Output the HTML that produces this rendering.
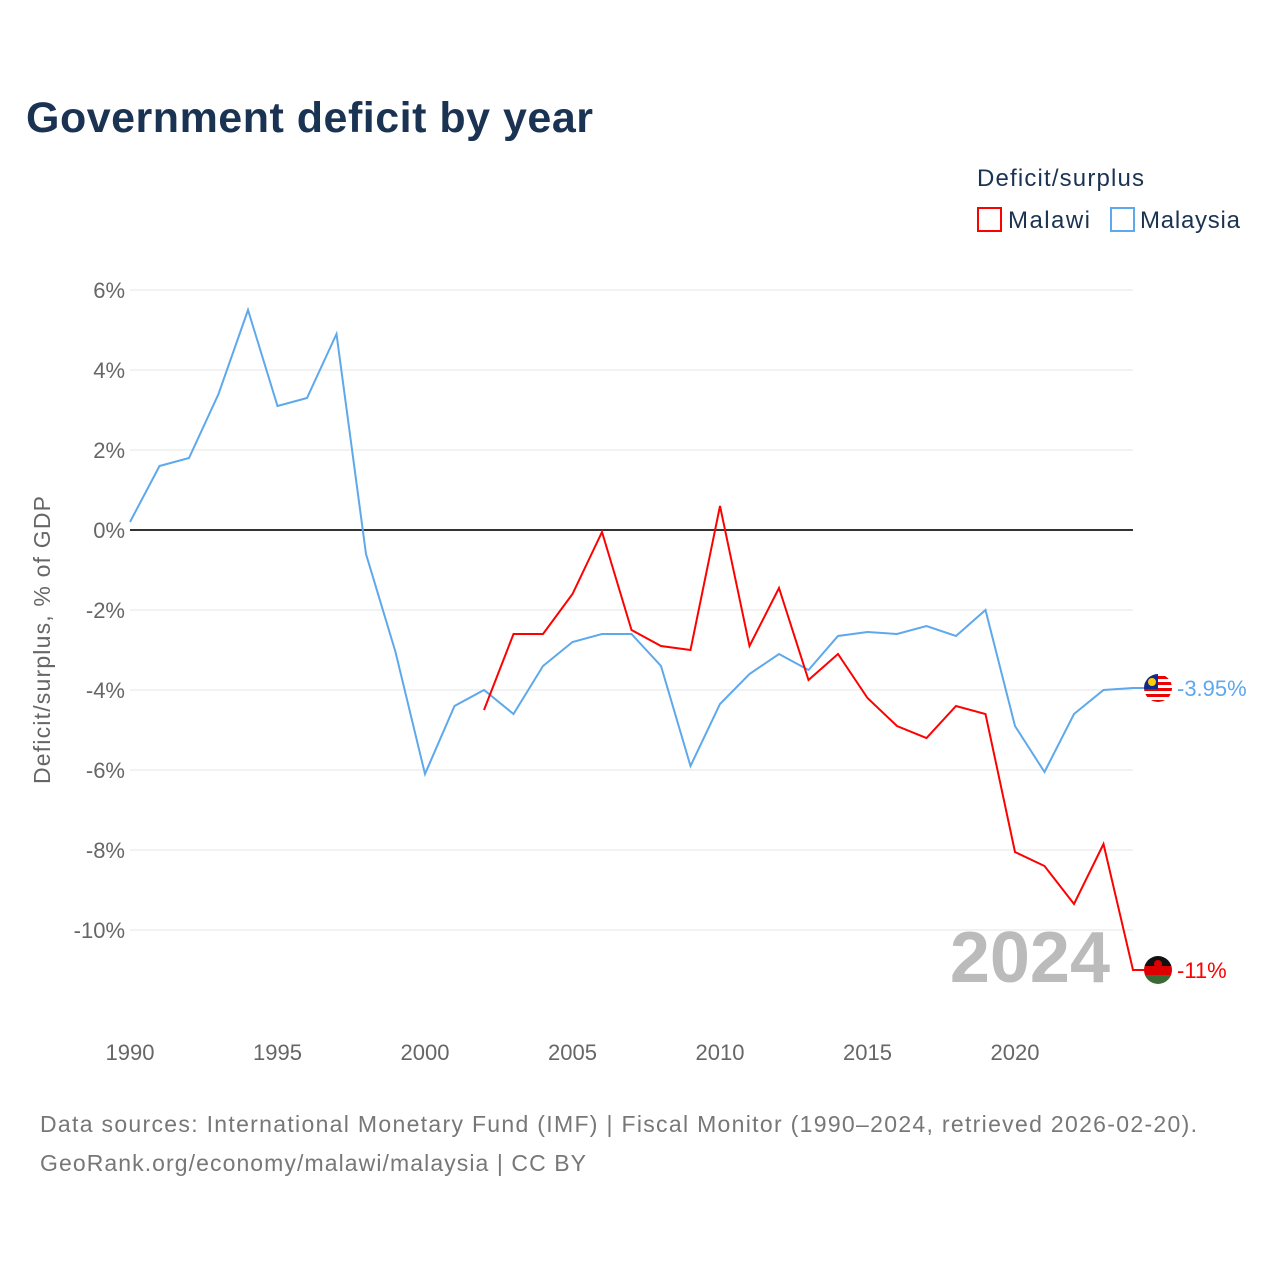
<!DOCTYPE html>
<html><head><meta charset="utf-8"><style>
body{margin:0;background:#fff;font-family:"Liberation Sans",sans-serif}
</style></head><body>
<svg width="1280" height="1280" xmlns="http://www.w3.org/2000/svg" style="font-family:'Liberation Sans',sans-serif">
<defs>
<clipPath id="c1"><circle cx="1158" cy="688" r="14"/></clipPath>
<clipPath id="c2"><circle cx="1158" cy="970" r="14"/></clipPath>
</defs>
<text x="26" y="132" font-size="43" font-weight="bold" fill="#1b3352" textLength="567">Government deficit by year</text>
<text x="977" y="186" font-size="24" fill="#1b3352" textLength="167">Deficit/surplus</text>
<g><rect x="978" y="208" width="23" height="23" fill="none" stroke="#f00" stroke-width="2"/><text x="1008" y="228" font-size="24" fill="#1b3352" textLength="82">Malawi</text></g>
<g><rect x="1111" y="208" width="23" height="23" fill="none" stroke="#5ea8ec" stroke-width="2"/><text x="1140" y="228" font-size="24" fill="#1b3352" textLength="100">Malaysia</text></g>
<g id="grid"></g><g id="xt"></g><g id="series"></g>
<g clip-path="url(#c1)">
<rect x="1144" y="674" width="28" height="28" fill="#fff"/>
<rect x="1144" y="676" width="28" height="3" fill="#e00"/><rect x="1144" y="682" width="28" height="3" fill="#e00"/><rect x="1144" y="688" width="28" height="3" fill="#e00"/><rect x="1144" y="694" width="28" height="3" fill="#e00"/><rect x="1144" y="700" width="28" height="3" fill="#e00"/>
<rect x="1144" y="674" width="14" height="15" fill="#102a8a"/><circle cx="1152" cy="682" r="4" fill="#fc0"/>
</g>
<g clip-path="url(#c2)">
<rect x="1144" y="956" width="28" height="10" fill="#111"/><rect x="1144" y="966" width="28" height="9" fill="#d00"/><rect x="1144" y="975" width="28" height="10" fill="#3a6b35"/>
<circle cx="1158" cy="964" r="4" fill="#d00"/>
</g>
<text transform="translate(50,640) rotate(-90)" text-anchor="middle" font-size="23" fill="#666" textLength="288">Deficit/surplus, % of GDP</text>
<text x="1110" y="982" text-anchor="end" font-size="72" font-weight="bold" fill="#bbb">2024</text>
<text x="40" y="1132" font-size="23" fill="#777" textLength="1157">Data sources: International Monetary Fund (IMF) | Fiscal Monitor (1990–2024, retrieved 2026-02-20).</text>
<text x="40" y="1171" font-size="23" fill="#777" textLength="546">GeoRank.org/economy/malawi/malaysia | CC BY</text>
</svg>
<script>
const yTicks=[6,4,2,0,-2,-4,-6,-8,-10];
const xTicks=[1990,1995,2000,2005,2010,2015,2020];
const malaysiaYears=[1990,1991,1992,1993,1994,1995,1996,1997,1998,1999,2000,2001,2002,2003,2004,2005,2006,2007,2008,2009,2010,2011,2012,2013,2014,2015,2016,2017,2018,2019,2020,2021,2022,2023,2024];
const malaysia=[0.2,1.6,1.8,3.4,5.5,3.1,3.3,4.9,-0.6,-3.05,-6.1,-4.4,-4.0,-4.6,-3.4,-2.8,-2.6,-2.6,-3.4,-5.9,-4.35,-3.6,-3.1,-3.5,-2.65,-2.55,-2.6,-2.4,-2.65,-2.0,-4.9,-6.05,-4.6,-4.0,-3.95];
const malawiYears=[2002,2003,2004,2005,2006,2007,2008,2009,2010,2011,2012,2013,2014,2015,2016,2017,2018,2019,2020,2021,2022,2023,2024];
const malawi=[-4.5,-2.6,-2.6,-1.6,-0.05,-2.5,-2.9,-3.0,0.6,-2.9,-1.45,-3.75,-3.1,-4.2,-4.9,-5.2,-4.4,-4.6,-8.05,-8.4,-9.35,-7.85,-11];
const X=y=>130+(y-1990)*29.5, Y=v=>530-v*40;
const NS="http://www.w3.org/2000/svg";
function mk(t,a,p){const e=document.createElementNS(NS,t);for(const k in a)e.setAttribute(k,a[k]);p.appendChild(e);return e;}
const g=document.getElementById('grid');
yTicks.forEach(v=>{
 const l=mk('line',{x1:130,x2:1133,y1:Y(v),y2:Y(v),stroke:v==0?'#333':'#e6e6e6','stroke-width':v==0?2:1},g);
 
 
 const t=mk('text',{x:125,y:Y(v)+8,'text-anchor':'end','font-size':22,fill:'#666'},g);t.textContent=v+'%';
 
 
});
const xt=document.getElementById('xt');
xTicks.forEach(v=>{const t=mk('text',{x:X(v),y:1060,'text-anchor':'middle','font-size':22,fill:'#666'},xt);t.textContent=v;
 
 });
const s=document.getElementById('series');
function line(yrs,vals,col,name,lab){
 const p=mk('polyline',{points:yrs.map((y,i)=>X(y)+','+Y(vals[i])).join(' ')+' '+(X(2024)+12)+','+Y(vals[vals.length-1]),fill:'none',stroke:col,'stroke-width':2},s);
 
 
 const yy=Y(vals[vals.length-1]);
 const t=mk('text',{x:1177,y:yy+8,'font-size':22,fill:col},s);t.textContent=lab;
 
 
}
line(malaysiaYears,malaysia,'#5ea8ec','malaysia','-3.95%');
line(malawiYears,malawi,'#f00','malawi','-11%');
</script>
</body></html>
